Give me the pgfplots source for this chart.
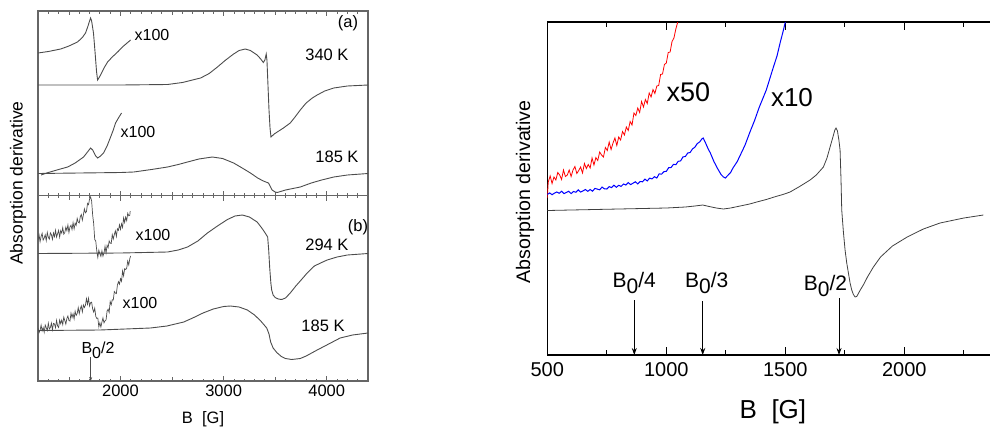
\documentclass[border=0pt]{standalone}
\usepackage{fontspec}
\setmainfont{Liberation Sans}
\usepackage{pgfplots}
\pgfplotsset{compat=1.18}
\usetikzlibrary{arrows.meta}

\newcommand\fs[1]{\fontsize{#1}{#1}\selectfont}
\newcommand\Bsub[1]{B\raisebox{-0.33em}{0}/#1}

\pgfplotsset{
  epr/.style={
    scale only axis, y dir=reverse, ytick=\empty,
    /pgf/number format/assume math mode=true,
    /pgf/number format/1000 sep={},
    tick align=inside, xtick pos=both,
  },
  lpanel/.style={
    epr, xmin=1200, xmax=4400,
    xtick={2000,3000,4000},
    extra x ticks={1500,2500,3500}, extra x tick labels={},
    extra x tick style={major tick length=4pt},
    minor xtick={1300,1400,...,4300},
    major tick length=5pt, minor tick length=2.5pt,
    axis line style={black!60, line width=1.1pt},
    every tick/.style={black!60, line width=0.8pt},
    ticklabel style={font=\fs{16.5}},
  },
  trace/.style={black!70, line width=0.9pt, no markers},
}

\begin{document}
\begin{tikzpicture}[x=1pt,y=1pt]
\useasboundingbox (0,0) rectangle (990,-428);

% ---------- (a) ----------
\begin{axis}[lpanel, at={(38pt,-195.7pt)}, anchor=south west,
  width=330pt, height=184.7pt, ymin=11, ymax=195.7, xticklabels={}]
% 340 K
\addplot[trace] coordinates {
(1200,85) (2000,85) (2456,84.5) (2600,82.5) (2777,78) (2860,73.5) (2940,67)
(3020,60) (3097,54) (3150,50.5) (3210,49) (3260,50.5) (3325,55) (3360,59)
(3385,62.5) (3400,60) (3413,54) (3420,60) (3430,85) (3440,110) (3450,128)
(3459,137) (3470,136) (3490,134) (3520,132) (3580,128) (3646,123) (3700,116)
(3743,110) (3800,103) (3860,98) (3907,95) (3980,91) (4068,88) (4200,86) (4400,85)};
% 340 K, x100
\addplot[trace] coordinates {
(1200,53) (1300,51.5) (1420,49) (1500,46) (1583,42) (1630,37.5) (1661,33)
(1685,26) (1700,21) (1710,18) (1720,21) (1738,33) (1750,48) (1759,60)
(1768,72) (1778,80) (1790,78) (1807,75) (1840,68) (1875,62) (1920,57)
(1972,52) (2030,46) (2098,40)};
% 185 K
\addplot[trace] coordinates {
(1200,173.5) (1600,173) (2000,172.5) (2128,172) (2300,169.5) (2456,167)
(2560,164.5) (2650,162) (2760,159) (2890,157) (2990,158.5) (3097,163)
(3180,168) (3260,173) (3330,178) (3385,181) (3410,182) (3435,183) (3450,186)
(3470,190) (3500,192) (3520,192.5) (3600,190) (3743,187) (3850,183)
(3950,180) (4068,177) (4200,175) (4400,173.5)};
% 185 K, x100
\addplot[trace] coordinates {
(1230,175) (1300,172.5) (1400,169.5) (1488,167) (1560,163) (1642,157)
(1680,152) (1710,148) (1730,150) (1760,156) (1778,158) (1800,156.5)
(1836,153) (1870,146) (1904,137) (1930,130) (1952,123) (1980,118) (2010,113)};
\node[font=\fs{16.5}] at (axis cs:4206,23) {(a)};
\node[font=\fs{16}] at (axis cs:2305,35) {x100};
\node[font=\fs{16.5}] at (axis cs:4002,55) {340 K};
\node[font=\fs{16}] at (axis cs:2170,132) {x100};
\node[font=\fs{16.5}] at (axis cs:4099,157) {185 K};
\end{axis}

% ---------- (b) ----------
\begin{axis}[lpanel, at={(38pt,-381pt)}, anchor=south west,
  width=330pt, height=185.3pt, ymin=195.7, ymax=381,
  xlabel={B\ \ [G]},
  xlabel style={font=\fs{16.5}, at={(axis description cs:0.5,-0.205)}, anchor=center}]
% 294 K
\addplot[trace] coordinates {
(1200,253.5) (2000,253) (2456,252) (2560,250) (2650,247) (2750,241)
(2843,233) (2940,226) (3037,219.5) (3110,216) (3182,215) (3250,217)
(3325,222) (3370,228) (3403,233) (3427,237) (3437,250) (3447,268) (3458,283)
(3466,290) (3480,295) (3500,297.5) (3530,299) (3563,299.5) (3600,298)
(3646,293) (3700,286) (3760,279) (3810,273) (3880,266) (3940,263)
(4004,260) (4100,257) (4200,255) (4400,253.5)};
% 294 K, x100
\addplot[trace, line width=0.7pt] coordinates {
(1200,240) (1210,234.8) (1220,241.7) (1230,236.5) (1240,233.3) (1250,240.1)
(1260,238) (1270,234.8) (1280,240.6) (1290,232.4) (1300,237.3) (1310,239.1)
(1320,232.9) (1330,234.6) (1340,239.3) (1350,233) (1360,236.6) (1370,230.3)
(1380,237) (1390,233.7) (1400,230.4) (1410,237.1) (1420,230.6) (1430,233.1)
(1440,227.6) (1450,234.1) (1460,232.6) (1470,227.1) (1480,230.6) (1490,225)
(1500,232.5) (1510,227) (1520,225.2) (1530,229.5) (1540,222.7) (1550,228.9)
(1560,223.2) (1570,225.4) (1580,218.4) (1590,222.2) (1600,222.9) (1610,216.7)
(1620,214.5) (1630,220.2) (1640,215) (1650,208.9) (1660,212.8) (1670,211.7)
(1680,203.5) (1690,204.7) (1700,199) (1710,197) (1720,201) (1730,215)
(1740,223.7) (1750,239.5) (1760,241) (1770,251) (1780,257.4) (1790,250.2)
(1800,253.9) (1810,256.4) (1820,250.8) (1830,256.2) (1840,253) (1850,246.4)
(1860,252.9) (1870,245.3) (1880,247.6) (1890,240.9) (1900,243.2) (1910,243.4)
(1920,234.7) (1930,239) (1940,234.5) (1950,230.9) (1960,236.4) (1970,228.8)
(1980,230.3) (1990,224.8) (2000,229.3) (2010,223.8) (2020,227.4) (2030,217.9)
(2040,222.5) (2050,217.1) (2060,220.6) (2070,213.2) (2080,215.8) (2090,215.3)
(2094,211)};
% 185 K
\addplot[trace] coordinates {
(1200,330.5) (1800,330) (2290,328) (2450,326) (2613,322) (2700,318)
(2800,313) (2900,309) (3000,306.5) (3065,306) (3150,307) (3230,310)
(3300,315) (3360,321) (3418,328) (3440,334) (3456,342) (3480,348)
(3515,352.5) (3560,356.5) (3600,358.5) (3660,359.5) (3743,358.5)
(3800,356) (3907,350) (4000,345) (4130,338) (4250,335) (4400,333)};
% 185 K, x100
\addplot[trace, line width=0.7pt] coordinates {
(1200,328) (1210,332.7) (1220,330.4) (1230,325.1) (1240,330.9) (1250,327.6)
(1260,332.3) (1270,325) (1280,327.7) (1290,330.5) (1300,323.2) (1310,328.9)
(1320,327.5) (1330,323.2) (1340,329.8) (1350,323.4) (1360,324) (1370,327.6)
(1380,320.3) (1390,325.9) (1400,327.5) (1410,320.1) (1420,323.6) (1430,320.1)
(1440,324.6) (1450,317.1) (1460,320.6) (1470,324.1) (1480,318.5) (1490,316)
(1500,320.5) (1510,321) (1520,313.2) (1530,317.5) (1540,313.7) (1550,318.9)
(1560,311.2) (1570,315.4) (1580,313.5) (1590,307.6) (1600,313.7) (1610,308.8)
(1620,305.8) (1630,311.9) (1640,305) (1650,307.5) (1660,305.1) (1670,298.6)
(1680,304.2) (1690,298.3) (1700,306) (1710,302.6) (1720,302.2) (1730,308.9)
(1740,312) (1750,308.1) (1760,316.3) (1770,318.4) (1780,318) (1790,326.9)
(1800,322.8) (1810,327.1) (1820,322) (1830,318) (1840,322.9) (1850,320.7)
(1860,319.9) (1870,311) (1880,309.2) (1890,312.4) (1900,301.5) (1910,304.7)
(1920,299.8) (1930,300) (1940,291.5) (1950,293.1) (1960,293.6) (1970,285.1)
(1980,281.7) (1990,284.2) (2000,278.7) (2010,281.2) (2020,271) (2030,275.9)
(2040,268.7) (2050,269.5) (2060,268.3) (2070,261.1) (2080,264.9) (2090,258.7)
(2098,256)};
\node[font=\fs{16}] at (axis cs:2315,235) {x100};
\node[font=\fs{16.5}] at (axis cs:4002,245) {294 K};
\node[font=\fs{16.5}] at (axis cs:4303,227) {(b)};
\node[font=\fs{16}] at (axis cs:2189,303) {x100};
\node[font=\fs{16.5}] at (axis cs:3964,326) {185 K};
\node[font=\fs{16}, anchor=base] at (axis cs:1782,353) {\Bsub{2}};
\draw[black!70, line width=0.6pt, -{Stealth[length=4pt,width=3pt]}]
  (axis cs:1711,357) -- (axis cs:1711,381);
\end{axis}

\node[rotate=90, font=\fs{17.5}] at (18,-183) {Absorption derivative};

% ---------- right panel ----------
\begin{axis}[epr, at={(547.3pt,-355pt)}, anchor=south west,
  width=445.1pt, height=333pt, xmin=500, xmax=2370, ymin=22, ymax=355,
  xtick={500,1000,1500,2000}, minor xtick={750,1250,1750,2250},
  major tick length=8pt, minor tick length=5pt,
  axis line style={black, line width=1.5pt},
  every tick/.style={black, line width=1.2pt},
  xticklabel style={font=\fs{20}, yshift=-4pt},
  xlabel={B\ \ [G]},
  xlabel style={font=\fs{26}, at={(axis description cs:0.507,-0.17)}, anchor=center}]
% x50
\addplot[red, line width=0.8pt, no markers] coordinates {
(500,198) (504,182) (512,176) (520,183.5) (528,177) (536,180) (544,172.5)
(552,175) (560,179.5) (568,170) (576,176.5) (584,175) (592,170) (600,176.5)
(608,170) (616,166.5) (624,173.5) (632,170.5) (640,167) (648,173) (656,163.5)
(664,168.5) (672,164.5) (680,168) (688,158) (696,165) (704,157.5) (712,160.5)
(720,152) (728,155) (736,157) (744,147.5) (752,150.5) (760,142) (768,149.5)
(776,143) (784,138) (792,145.5) (800,137) (808,140) (816,131.5) (824,135)
(832,127) (840,130.5) (848,121.5) (856,125) (864,113) (872,115.5) (880,108)
(888,112.5) (896,101.5) (904,107) (912,99.5) (920,103.5) (928,93) (936,97)
(944,89.5) (952,93.5) (960,86) (968,85.5) (976,74.5) (984,74) (992,64.5)
(1000,63) (1008,52.5) (1016,52) (1024,41.5) (1032,38) (1040,29) (1048,22)
(1052,15)};
% x10
\addplot[blue, line width=1pt, no markers] coordinates {
(500,194.5) (510,192.9) (520,194.7) (530,193.1) (540,192) (550,193.3)
(560,191.2) (570,193.6) (580,192.4) (590,191.3) (600,193.6) (610,191.5)
(620,192.2) (630,189.9) (640,192.1) (650,190.9) (660,189.5) (670,191.3)
(680,189.5) (690,191.2) (700,188.4) (710,189.1) (720,189.8) (730,187.1)
(740,188.8) (750,189) (760,186.6) (770,187.6) (780,185.2) (790,187.3)
(800,185.3) (810,186.4) (820,184) (830,185) (840,182.6) (850,184.6)
(860,183.2) (870,181.8) (880,183.9) (890,181.5) (900,181.8) (910,179.1)
(920,180.9) (930,178.1) (940,178.9) (950,176.7) (960,178) (970,173.8)
(980,174.2) (990,171.6) (1000,171.3) (1010,167.7) (1020,167.5) (1030,164.3)
(1040,164.7) (1050,161.3) (1060,160.9) (1070,156.9) (1080,156.5) (1090,153)
(1100,152.5) (1110,148.9) (1120,147.2) (1130,143.6) (1140,141.9) (1150,138.8)
(1155,138) (1165,143) (1175,148.5) (1185,153) (1200,161.5) (1214,168)
(1230,174.5) (1240,177) (1248,178) (1260,175) (1270,172.5) (1280,168)
(1298,161.5) (1315,153) (1330,145.5) (1353,131) (1370,121) (1390,107.5)
(1408,97) (1420,90) (1435,78.5) (1450,67) (1465,56) (1479,42) (1490,32)
(1500,22) (1505,15)};
% x1
\addplot[black!75, line width=0.8pt, no markers] coordinates {
(500,210.5) (600,210) (700,209.5) (800,209) (900,208.5) (1000,208)
(1080,207) (1120,206) (1153,205) (1180,206.5) (1210,208) (1240,209)
(1270,208) (1310,206) (1350,204) (1380,202) (1420,199.5) (1460,196.5)
(1490,194.5) (1520,192) (1560,186.5) (1604,180) (1630,175) (1660,167)
(1675,158) (1688,147) (1700,137) (1708,130) (1713,128) (1719,131)
(1725,140) (1730,150) (1734,180) (1737,210) (1744,232) (1751,250)
(1758,263) (1765,273) (1772,283) (1779,290) (1786,294.5) (1793,297)
(1800,296.5) (1808,293) (1815,290) (1830,284) (1845,277) (1870,267)
(1900,257) (1950,246) (2012,237) (2080,229) (2150,223) (2250,218) (2332,215)};
\node[font=\fs{27}] at (axis cs:1093,92.5) {x50};
\node[font=\fs{26}] at (axis cs:1528,97.5) {x10};
\node[font=\fs{21}, anchor=base] at (axis cs:865,287) {\Bsub{4}};
\node[font=\fs{21}, anchor=base] at (axis cs:1170,287) {\Bsub{3}};
\node[font=\fs{21}, anchor=base] at (axis cs:1669,290) {\Bsub{2}};
\draw[black, line width=0.9pt, -{Stealth[length=7pt,width=5pt]}]
  (axis cs:865.5,300) -- (axis cs:865.5,355);
\draw[black, line width=0.9pt, -{Stealth[length=7pt,width=5pt]}]
  (axis cs:1153,301) -- (axis cs:1153,355);
\draw[black, line width=0.9pt, -{Stealth[length=7pt,width=5pt]}]
  (axis cs:1725.6,298) -- (axis cs:1725.6,355);
\end{axis}

\node[rotate=90, font=\fs{19.6}] at (525,-192) {Absorption derivative};
\end{tikzpicture}
\end{document}
